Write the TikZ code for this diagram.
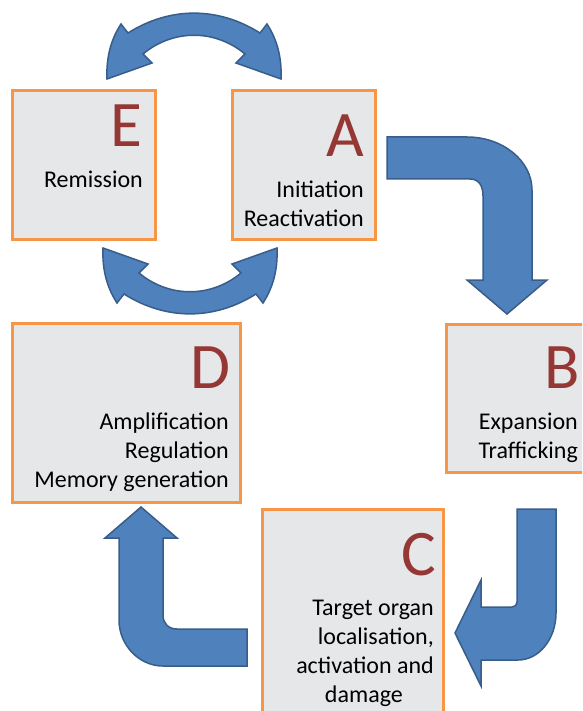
\documentclass[tikz,border=0pt]{standalone}
\usepackage{fontspec}
\setmainfont{Carlito}
\definecolor{boxfill}{HTML}{E6E7E8}
\definecolor{boxline}{HTML}{F79646}
\definecolor{lettercol}{HTML}{953735}
\definecolor{arrowfill}{HTML}{4F81BD}
\definecolor{arrowline}{HTML}{385D8A}

\tikzset{
  swaparrow/.pic={
    \draw[blockarrow] (-87,0) .. controls (-88,-24) and (-82,-41) .. (-73,-55)
      -- (-66,-46) .. controls (-24,-72.5) and (24,-72.5) .. (66,-46)
      -- (73,-55) .. controls (82,-41) and (88,-24) .. (87,0)
      -- (42,-16) -- (51,-25) .. controls (21,-50) and (-21,-50) .. (-51,-25)
      -- (-42,-16) -- cycle;
  }
}

\begin{document}
\begin{tikzpicture}[x=1pt,y=-1pt,
  stage/.style={draw=boxline, fill=boxfill, line width=3pt},
  letter/.style={anchor=base east, inner sep=0pt, text=lettercol, font=\fontsize{65}{65}\selectfont},
  stagetext/.style={anchor=base east, inner sep=0pt, align=right, font=\fontsize{24}{29}\selectfont},
  blockarrow/.style={fill=arrowfill, draw=arrowline, line width=1.5pt}]
\useasboundingbox (0,0) rectangle (582,711);
\clip (0,0) rectangle (582,711);

% stages
\node[stage, minimum width=143pt, minimum height=148pt] (boxE) at (83.5,165) {};
\node[stage, minimum width=143pt, minimum height=148pt] (boxA) at (303.5,165) {};
\node[stage, minimum width=228pt, minimum height=179pt] (boxD) at (126,412.5) {};
\node[stage, minimum width=144pt, minimum height=148pt] (boxB) at (518,398) {};
\node[stage, minimum width=181pt, minimum height=216pt] (boxC) at (352.5,617) {};

% letters and texts (multi-line texts sit on their last baseline)
\node[letter] (letE) at (142,147) {E};
\node[stagetext] (txtE) at (143,188) {Remission};
\node[letter] (letA) at (364,157) {A};
\node[stagetext] (txtA) at (364,226) {Initiation\\Reactivation};
\node[letter] (letD) at (231,388) {D};
\node[stagetext] (txtD) at (229,487) {Amplification\\Regulation\\Memory generation};
\node[letter] (letB) at (580,388) {B};
\node[stagetext] (txtB) at (578,458) {Expansion\\Trafficking};
\node[letter] (letC) at (436,575) {C};
\node[stagetext] (txtC) at (434,702) {Target organ\\localisation,\\activation and\\damage\hspace*{31pt}};

% E <-> A
\pic at (194,79) {swaparrow};
\pic[yscale=-1] at (190,248) {swaparrow};

% A to B
\draw[blockarrow] (387,137) -- (467,137) .. controls (503,137) and (532,161) .. (532,190)
  -- (532,280) -- (547,280) -- (507,314) -- (467,280) -- (483,280) -- (483,196)
  .. controls (483,186) and (479,179) .. (470,179) -- (387,179) -- cycle;
% B to C
\draw[blockarrow] (517,509) -- (556,509) -- (556,613) .. controls (556,639) and (539,660) .. (518,660)
  -- (481,660) -- (481,686) -- (455,633) -- (481,580) -- (481,607) -- (512,607)
  .. controls (515,607) and (517,605) .. (517,602) -- cycle;
% C to D
\draw[blockarrow] (141,507) -- (177,538) -- (163,538) -- (163,615)
  .. controls (163,623) and (168,629) .. (177,629) -- (247,629) -- (247,666) -- (163,666)
  .. controls (139,666) and (119,645) .. (119,620) -- (119,538) -- (105,538) -- cycle;
\end{tikzpicture}
\end{document}
